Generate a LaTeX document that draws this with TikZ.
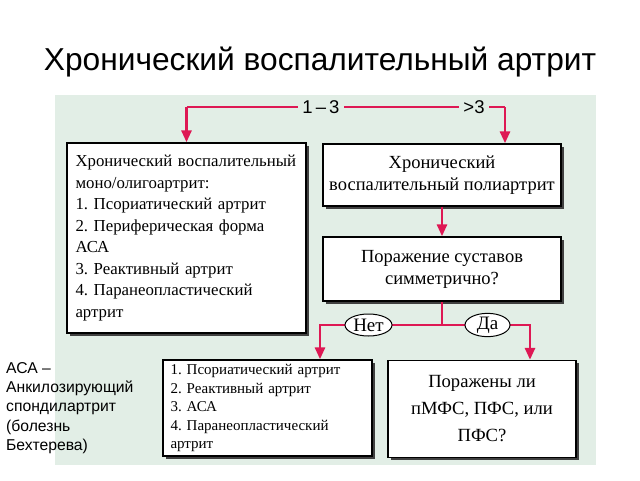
\documentclass[tikz,border=0pt]{standalone}
\usepackage{fontspec}
\setmainfont{Liberation Serif}
\newfontfamily\arialf{Liberation Sans}
\usetikzlibrary{shapes.geometric,arrows.meta,shadows}
\definecolor{panel}{RGB}{226,238,230}
\definecolor{crim}{RGB}{222,24,84}
\frenchspacing
\tikzset{
  box/.style={draw=black, line width=1.4pt, fill=white, inner sep=0pt,
    general shadow={fill=black!75, shadow xshift=2.5pt, shadow yshift=-2.5pt}},
  conn/.style={draw=crim, line width=2.8pt},
  arr/.style={conn, -{Triangle[width=10pt,length=12pt]}},
  yn/.style={ellipse, draw=black, line width=1pt, fill=white, inner sep=0pt,
    minimum width=47pt, minimum height=22pt, font=\fontsize{19}{19}\selectfont},
  cnt/.style={fill=panel, inner xsep=4pt, inner ysep=2pt, font=\arialf\fontsize{18.5}{18.5}\selectfont}
}
\begin{document}
\begin{tikzpicture}[x=1pt,y=-1pt]
\useasboundingbox (0,0) rectangle (640,480);
\fill[panel] (55,95) rectangle (596,465);
\node[font=\arialf\fontsize{31.7}{31.7}\selectfont] (title) at (320,62) {Хронический воспалительный артрит};

\node[box, minimum width=239pt, minimum height=190pt, text width=222pt, align=left,
  font=\fontsize{16.8}{21.5}\selectfont] (A) at (186.5,238)
  {Хронический воспалительный\\моно/олигоартрит:\\1. Псориатический артрит\\2. Периферическая форма\\АСА\\3. Реактивный артрит\\4. Паранеопластический\\артрит};
\node[box, minimum width=238pt, minimum height=62pt, align=center,
  font=\fontsize{18.5}{22.5}\selectfont] (B) at (442,175)
  {Хронический\\воспалительный полиартрит};
\node[box, minimum width=238pt, minimum height=64pt, align=center,
  font=\fontsize{18.5}{22}\selectfont] (C) at (442,269)
  {Поражение суставов\\симметрично?};
\node[box, minimum width=209pt, minimum height=96pt, text width=194pt, align=left,
  font=\fontsize{15}{18.5}\selectfont] (D) at (267.5,408)
  {1. Псориатический артрит\\2. Реактивный артрит\\3. АСА\\4. Паранеопластический\\артрит};
\node[box, minimum width=188pt, minimum height=97pt, align=center,
  font=\fontsize{18.6}{27}\selectfont] (E) at (482,409)
  {Поражены ли\\пМФС, ПФС, или\\ПФС?};

\node[anchor=north west, align=left, inner sep=0pt,
  font=\arialf\fontsize{15.7}{19.3}\selectfont] (note) at (6,362)
  {АСА –\\Анкилозирующий\\спондилартрит\\(болезнь\\Бехтерева)};

\coordinate (tl) at (186.5,107);
\coordinate (tr) at (505,107);
\draw[arr] (tl) -- (A.north);
\draw[conn] (tl) -- (tr);
\draw[arr] (tr) -- ([xshift=63pt]B.north);
\node[cnt] (l13) at (321,107) {1\,–\,3};
\node[cnt] (l3) at (474,107) {>3};

\draw[arr] (B.south) -- (C.north);
\coordinate (j) at (442,325);
\draw[conn] (C.south) -- (j);
\draw[arr] (j) -| ([xshift=52.5pt]D.north);
\draw[arr] (j) -| ([xshift=48pt]E.north);
\node[yn] (no) at (368.5,325) {Нет};
\node[yn, minimum width=45pt] (yes) at (487.5,325) {Да};
\end{tikzpicture}
\end{document}
